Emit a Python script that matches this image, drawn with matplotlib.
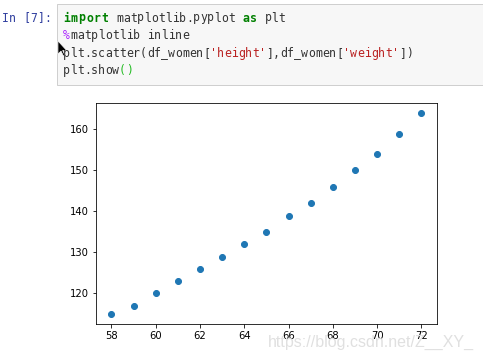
import matplotlib
matplotlib.use("Agg")
import matplotlib.pyplot as plt
from matplotlib.patches import Rectangle, Polygon

# women dataset: height (in) vs weight (lb)
height = [58, 59, 60, 61, 62, 63, 64, 65, 66, 67, 68, 69, 70, 71, 72]
weight = [115, 117, 120, 123, 126, 129, 132, 135, 139, 142, 146, 150, 154, 159, 164]

# code cell lines as (text, colour, bold) segments
code_lines = [
    [("import", "#008000", True), (" matplotlib.pyplot ", "#333333", False),
     ("as", "#008000", True), (" plt", "#333333", False)],
    [("%", "#aa22ff", False), ("matplotlib inline", "#333333", False)],
    [("plt.scatter(df_women[", "#333333", False), ("'height'", "#ba2121", False),
     ("],df_women[", "#333333", False), ("'weight'", "#ba2121", False),
     ("])", "#333333", False)],
    [("plt.show", "#333333", False), ("()", "#22bb22", False)],
]
prompt = "In [7]:"
watermark = "https://blog.csdn.net/Z__XY_"

W, H = 483, 356
DPI = 72


def px(x, y):
    return x / W, 1 - y / H


fig = plt.figure(figsize=(W / DPI, H / DPI), dpi=DPI)

# code cell box
fig.patches.append(Rectangle(px(57, 85), (W - 57 + 5) / W, 81 / H, transform=fig.transFigure,
                             facecolor="#f7f7f7", edgecolor="#cfcfcf", linewidth=1.0))

mono = "DejaVu Sans Mono"
char_w = 7.0
bold_w = 7.7


def draw_chars(x0, y, text, color, bold=False):
    # one glyph at a time so the monospace grid holds
    step = bold_w if bold else char_w
    for k, ch in enumerate(text):
        if ch != " ":
            fig.text(*px(x0 + k * step, y), ch, color=color, family=mono, fontsize=11.5,
                     fontweight="bold" if bold else "normal", va="baseline")
    return x0 + len(text) * step


draw_chars(2, 21.5, prompt, "#303f9f")
for i, segments in enumerate(code_lines):
    x = 63
    base_y = 21.5 + i * 17.6
    for text, color, bold in segments:
        x = draw_chars(x, base_y, text, color, bold)

# mouse cursor
cursor = [(58, 41), (58, 54), (61, 51), (63.5, 56), (65, 55.3), (62.6, 50.5), (66.5, 50.3)]
fig.patches.append(Polygon([px(x, y) for x, y in cursor], closed=True, transform=fig.transFigure,
                           facecolor="black", edgecolor="white", linewidth=0.6))

ax = fig.add_axes([96 / W, 1 - 324 / H, 341 / W, 221 / H])
ax.scatter(height, weight)

fig.text(*px(474, 342), watermark, color="#e0e0e0", family="Liberation Sans", fontsize=16,
         ha="right", va="center")

fig.savefig("out.png", dpi=DPI)
